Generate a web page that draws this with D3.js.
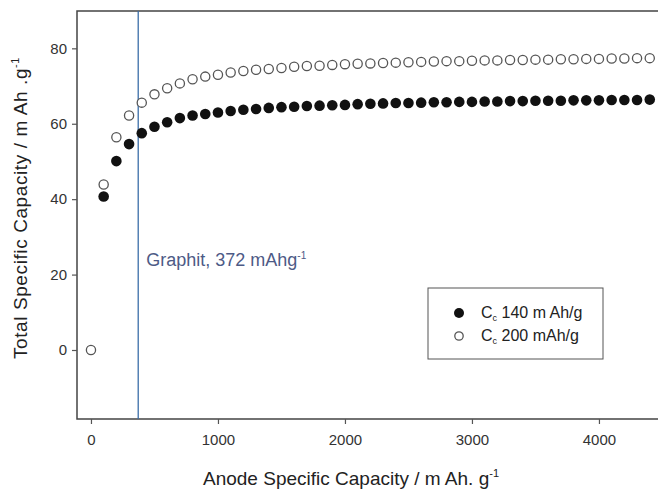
<!DOCTYPE html>
<html lang="en">
<head>
  <meta charset="UTF-8">
  <title>Total vs Anode Specific Capacity</title>
  <style>
    body { margin: 0; background: #fff; }
    svg { display: block; }
    text { font-family: 'Liberation Sans', Arial, sans-serif; }
    .tick text { font-size: 15px; fill: #333; }
  </style>
</head>
<body>
  <svg width="658" height="493"></svg>
  <script src="https://d3js.org/d3.v7.min.js"></script>
  <script>
    // Data
    const anodeCapacity = [0, 100, 200, 300, 400, 500, 600, 700, 800, 900,
      1000, 1100, 1200, 1300, 1400, 1500, 1600, 1700, 1800, 1900,
      2000, 2100, 2200, 2300, 2400, 2500, 2600, 2700, 2800, 2900,
      3000, 3100, 3200, 3300, 3400, 3500, 3600, 3700, 3800, 3900,
      4000, 4100, 4200, 4300, 4400];
    // Cc 140 m Ah/g (filled), starts at 100
    const filled140 = [null, 40.7, 50.1, 54.6, 57.5, 59.2, 60.4, 61.5, 62.2, 62.6,
      63.0, 63.4, 63.7, 63.9, 64.2, 64.4, 64.5, 64.7, 64.8, 64.9,
      65.0, 65.2, 65.3, 65.4, 65.5, 65.5, 65.6, 65.7, 65.7, 65.8,
      65.8, 65.9, 65.9, 66.0, 66.0, 66.1, 66.1, 66.1, 66.2, 66.2,
      66.2, 66.3, 66.3, 66.3, 66.4];
    // Cc 200 mAh/g (open)
    const open200 = [0, 43.9, 56.4, 62.2, 65.6, 67.8, 69.4, 70.7, 71.8, 72.5,
      73.0, 73.6, 74.0, 74.3, 74.5, 74.8, 75.1, 75.3, 75.4, 75.6,
      75.8, 75.9, 76.0, 76.1, 76.2, 76.3, 76.4, 76.5, 76.6, 76.6,
      76.7, 76.8, 76.8, 76.9, 76.9, 77.0, 77.0, 77.1, 77.1, 77.2,
      77.2, 77.3, 77.3, 77.4, 77.4];
    const xTicks = [0, 1000, 2000, 3000, 4000];
    const yTicks = [0, 20, 40, 60, 80];
    const graphit = 372;

    const svg = d3.select('svg');
    const plotLeft = 77, plotRight = 658, plotTop = 11, plotBottom = 419;

    const x = d3.scaleLinear().domain([-110, 4465]).range([plotLeft, plotRight]);
    const y = d3.scaleLinear().domain([-18.3, 89.9]).range([plotBottom, plotTop]);

    // Frame (left, top, bottom; right side is cut off)
    svg.append('path')
      .attr('d', `M${plotRight + 5},${plotTop} H${plotLeft} V${plotBottom} H${plotRight + 5}`)
      .attr('fill', 'none')
      .attr('stroke', '#444')
      .attr('stroke-width', 1.5);

    // Axes
    const xAxis = svg.append('g')
      .attr('transform', `translate(0,${plotBottom})`)
      .call(d3.axisBottom(x).tickValues(xTicks).tickFormat(d3.format('d')).tickSize(5).tickPadding(10));
    const yAxis = svg.append('g')
      .attr('transform', `translate(${plotLeft},0)`)
      .call(d3.axisLeft(y).tickValues(yTicks).tickFormat(d3.format('d')).tickSize(5).tickPadding(5));
    [xAxis, yAxis].forEach(a => {
      a.select('.domain').remove();
      a.selectAll('.tick line').attr('stroke', '#555').attr('stroke-width', 1.2);
    });

    // Graphite reference line
    svg.append('line')
      .attr('x1', x(graphit)).attr('x2', x(graphit))
      .attr('y1', plotTop).attr('y2', plotBottom)
      .attr('stroke', '#3b6ea8')
      .attr('stroke-width', 1.3);

    const gLabel = svg.append('text')
      .attr('x', x(graphit) + 8)
      .attr('y', 266)
      .attr('fill', '#4d5a86')
      .style('font-size', '18px');
    gLabel.append('tspan').text('Graphit, 372 mAhg');
    gLabel.append('tspan').attr('dy', -7).style('font-size', '10px').text('-1');

    // Points
    const pts140 = anodeCapacity.map((c, i) => ({ c, v: filled140[i] })).filter(d => d.v !== null);
    const pts200 = anodeCapacity.map((c, i) => ({ c, v: open200[i] }));

    svg.selectAll('circle.open')
      .data(pts200)
      .enter().append('circle')
      .attr('class', 'open')
      .attr('cx', d => x(d.c))
      .attr('cy', d => y(d.v))
      .attr('r', 4.6)
      .attr('fill', '#fff')
      .attr('stroke', '#555')
      .attr('stroke-width', 1.3);

    svg.selectAll('circle.filled')
      .data(pts140)
      .enter().append('circle')
      .attr('class', 'filled')
      .attr('cx', d => x(d.c))
      .attr('cy', d => y(d.v))
      .attr('r', 5.3)
      .attr('fill', '#111');

    // Legend
    const legend = svg.append('g');
    legend.append('rect')
      .attr('x', 428).attr('y', 288)
      .attr('width', 175).attr('height', 71)
      .attr('fill', '#fff')
      .attr('stroke', '#555')
      .attr('stroke-width', 1);
    legend.append('circle').attr('cx', 459).attr('cy', 313).attr('r', 5).attr('fill', '#111');
    legend.append('circle').attr('cx', 459).attr('cy', 336).attr('r', 4.2)
      .attr('fill', '#fff').attr('stroke', '#555').attr('stroke-width', 1.3);

    const legendText = [['140 m Ah/g', 318], ['200 mAh/g', 341]];
    legendText.forEach(([label, ty]) => {
      const t = legend.append('text')
        .attr('x', 481).attr('y', ty)
        .attr('fill', '#222')
        .style('font-size', '16px');
      t.append('tspan').text('C');
      t.append('tspan').attr('dy', 3).style('font-size', '9px').text('c');
      t.append('tspan').attr('dy', -3).text(' ' + label);
    });

    // Axis titles
    const xTitle = svg.append('text')
      .attr('x', 351).attr('y', 485)
      .attr('text-anchor', 'middle')
      .attr('fill', '#222')
      .style('font-size', '19px');
    xTitle.append('tspan').text('Anode Specific Capacity / m Ah. g');
    xTitle.append('tspan').attr('dy', -8).style('font-size', '11px').text('-1');

    const yTitle = svg.append('text')
      .attr('transform', 'translate(27,208) rotate(-90)')
      .attr('text-anchor', 'middle')
      .attr('fill', '#222')
      .style('font-size', '19px')
      .style('letter-spacing', '0.6px');
    yTitle.append('tspan').text('Total Specific Capacity / m Ah .g');
    yTitle.append('tspan').attr('dy', -8).style('font-size', '11px').text('-1');
  </script>
</body>
</html>
